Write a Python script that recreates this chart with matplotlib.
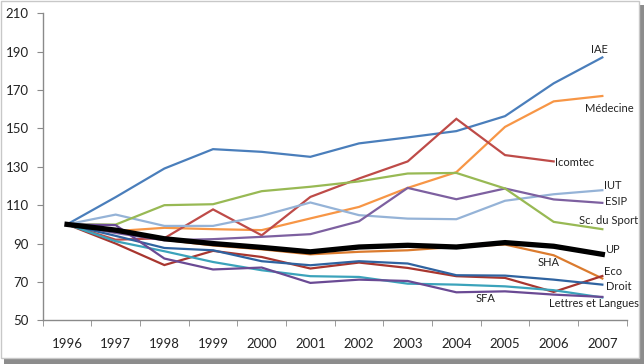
import numpy as np
import matplotlib
matplotlib.use("Agg")
import matplotlib.pyplot as plt
from matplotlib.patches import Rectangle

plt.rcParams['font.family'] = ['Lato', 'DejaVu Sans']

years = ['1996', '1997', '1998', '1999', '2000', '2001',
         '2002', '2003', '2004', '2005', '2006', '2007']

# valeurs (base 100 en 1996)
iae = [100, 114.2, 129.1, 139.2, 137.8, 135.2, 142.2, 145.3, 148.6, 156.4, 173.5, 187.0]
medecine = [100, 96.5, 98.2, 97.5, 97.0, 103.1, 109.1, 119.0, 127.2, 150.8, 164.1, 166.9]
icomtec = [100, 92.0, 92.8, 107.8, 94.3, 114.3, 123.9, 132.8, 155.0, 136.1, 132.8, np.nan]
iut = [100, 105.1, 99.2, 99.2, 104.4, 111.4, 104.8, 103.0, 102.7, 112.3, 115.7, 117.8]
esip = [100, 95.5, 91.7, 92.3, 93.5, 94.9, 101.6, 119.0, 113.1, 118.7, 113.0, 111.2]
sport = [100, 99.9, 110.0, 110.5, 117.3, 119.6, 122.4, 126.5, 126.8, 118.7, 101.3, 97.5]
sha = [100, 97.0, 92.0, 89.0, 87.0, 84.4, 85.7, 86.5, 88.3, 89.5, 83.9, 71.8]
eco = [100, 90.0, 78.8, 86.2, 83.0, 77.0, 80.1, 77.3, 73.0, 72.1, 64.8, 73.1]
droit = [100, 94.0, 87.7, 86.5, 80.8, 78.7, 80.8, 79.6, 73.5, 73.3, 71.2, 68.6]
lettres = [100, 91.2, 86.0, 80.4, 76.1, 73.0, 72.6, 69.1, 68.6, 67.7, 65.7, 61.9]
sfa = [100, 99.6, 82.2, 76.5, 77.5, 69.5, 71.2, 70.5, 64.6, 65.1, 63.4, 62.2]
up = [100, 97.0, 92.5, 90.0, 88.0, 85.7, 88.2, 89.1, 88.2, 90.5, 88.6, 84.4]

series = [
    ('IAE', iae, '#4A7EBB', 10.95, 190.9),
    ('Médecine', medecine, '#F79646', 11.15, 160.4),
    ('Icomtec', icomtec, '#BE4B48', 10.42, 132.3),
    ('IUT', iut, '#95B3D7', 11.22, 120.4),
    ('ESIP', esip, '#7D60A0', 11.28, 112.1),
    ('Sc. du Sport', sport, '#98B954', 11.12, 101.8),
    ('SHA', sha, '#DB7B2E', 9.9, 79.9),
    ('Eco', eco, '#A8362F', 11.22, 75.7),
    ('Droit', droit, '#2F63A0', 11.34, 67.4),
    ('Lettres et Langues', lettres, '#3BA3BB', 10.82, 59.0),
    ('SFA', sfa, '#6A4A94', 8.6, 61.3),
]

fig = plt.figure(figsize=(6.44, 3.64), dpi=100, facecolor='white')

# cadre du graphique avec ombre (droite et bas)
fig.patches.append(Rectangle((4 / 644, 0), 640 / 644, 359 / 364, transform=fig.transFigure,
                             facecolor='#8c8c8c', edgecolor='none', zorder=-2))
fig.patches.append(Rectangle((0.5 / 644, 6 / 364), 638 / 644, 357.5 / 364, transform=fig.transFigure,
                             facecolor='white', edgecolor='#c8c8c8', linewidth=1, zorder=-1))

ax = fig.add_axes([0.0663, 0.120, 0.9068, 0.8435])
ax.set_facecolor('none')

x = np.arange(len(years))
for name, vals, color, lx, ly in series:
    ax.plot(x, vals, color=color, linewidth=1.6, solid_joinstyle='miter')
    ax.text(lx, ly, name, fontsize=8, color='#222222', ha='center', va='center')

ax.plot(x, up, color='black', linewidth=3.8)
ax.text(11.2, 87, 'UP', fontsize=8, color='#222222', ha='center', va='center')

ax.set_xlim(-0.5, 11.5)
ax.set_ylim(50, 210)
ax.set_yticks(np.arange(50, 211, 20))
ax.set_xticks(x)
ax.set_xticklabels(years)
ax.set_xticks(np.arange(-0.5, 12, 1), minor=True)

for s in ['top', 'right']:
    ax.spines[s].set_visible(False)
for s in ['left', 'bottom']:
    ax.spines[s].set_color('#8a8a8a')
    ax.spines[s].set_linewidth(1)

ax.tick_params(axis='x', which='major', length=0, pad=13, labelsize=9.5, labelcolor='#222222')
ax.tick_params(axis='x', which='minor', length=4, color='#8a8a8a', direction='out')
ax.tick_params(axis='y', length=4, color='#8a8a8a', pad=6, labelsize=9.5, labelcolor='#222222')

fig.savefig('out.png', dpi=100, facecolor='white')
